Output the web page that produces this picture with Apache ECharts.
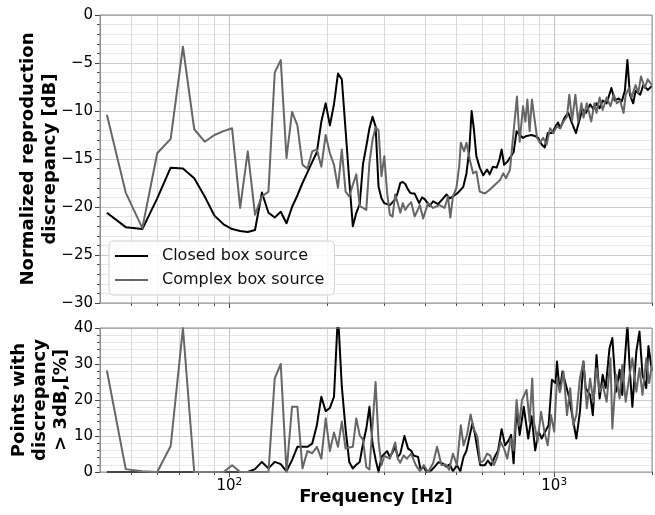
<!DOCTYPE html>
<html>
<head>
<meta charset="utf-8">
<script src="https://cdn.jsdelivr.net/npm/echarts@6/dist/echarts.min.js"></script>
<style>
html, body { margin: 0; padding: 0; background: #fff; }
#chart { width: 655px; height: 515px; }
</style>
</head>
<body>
<div id="chart"></div>
<script>
// top panel: normalized reproduction discrepancy [dB]
const closedTopF = [42,48,54,60,66,72,78,84,90,96,102,108,114,120,126,132,138,144,150,156,162,168,174,180,186,192,198,204,210,216,222,228,234,240,246,252,258,264,270,276,282,288,294,300,306,312,318,324,330,336,342,348,354,360,366,372,384,392,400,414,424,439,450,466,477,488,506,525,537,548,557,566,576,590,605,621,633,648,665,678,689,701,717,750,766,783,802,822,850,872,893,915,935,955,984,1010,1028,1043,1076,1105,1135,1167,1195,1222,1253,1290,1320,1350,1380,1410,1450,1500,1535,1580,1615,1650,1680,1710,1750,1780,1840,1880,1940,2000];
const closedTopV = [-20.6,-22.1,-22.3,-19.1,-15.9,-16.0,-17.0,-18.9,-20.9,-21.8,-22.3,-22.5,-22.6,-22.4,-18.5,-20.6,-21.1,-20.5,-21.7,-20.0,-18.8,-17.5,-16.4,-15.3,-14.3,-11.1,-9.2,-11.5,-9.3,-6.1,-6.7,-12.0,-17.2,-22.0,-20.6,-19.7,-15.5,-13.7,-11.8,-10.6,-11.6,-17.9,-19.1,-19.6,-19.7,-19.8,-19.5,-19.2,-18.5,-17.5,-17.4,-17.6,-18.1,-18.5,-18.6,-18.6,-19.6,-19.0,-19.2,-19.9,-19.4,-19.7,-19.3,-18.7,-19.1,-18.9,-18.5,-17.9,-16.5,-14.0,-10.0,-11.9,-14.7,-15.9,-16.7,-16.1,-16.6,-15.8,-15.9,-15.1,-14.0,-15.6,-15.3,-14.3,-12.1,-12.5,-12.8,-12.6,-12.5,-12.6,-12.8,-13.5,-13.8,-12.3,-12.3,-11.6,-11.2,-11.8,-10.7,-10.2,-11.3,-12.3,-11.0,-9.8,-10.2,-9.3,-9.8,-9.2,-9.7,-8.9,-9.2,-7.6,-8.9,-8.7,-9.0,-7.9,-4.7,-8.3,-9.2,-7.9,-8.3,-7.3,-7.8,-7.4];
const complexTopF = [42,48,54,60,66,72,78,84,90,96,102,108,114,120,126,132,138,144,150,156,162,168,174,180,186,192,198,204,210,216,222,228,234,240,246,252,258,264,270,276,282,288,294,300,306,312,318,324,330,336,342,348,356,363,372,386,395,409,424,444,460,471,479,488,500,510,516,528,537,550,563,576,590,612,633,656,681,697,711,731,740,768,783,802,815,827,840,854,872,886,904,925,948,971,994,1019,1043,1068,1095,1113,1135,1162,1185,1213,1231,1260,1300,1330,1350,1380,1410,1450,1490,1525,1560,1595,1635,1660,1700,1730,1780,1815,1850,1900,1940,2000];
const complexTopV = [-10.4,-18.5,-22.2,-14.4,-12.9,-3.3,-11.9,-13.2,-12.5,-12.1,-11.8,-20.1,-14.2,-20.8,-18.9,-18.4,-6.0,-4.7,-14.9,-10.1,-11.5,-15.6,-16.0,-14.2,-14.0,-15.8,-12.5,-14.4,-15.6,-18.0,-14.0,-18.4,-18.9,-17.7,-16.6,-19.9,-20.1,-20.3,-15.4,-13.0,-11.7,-12.0,-16.8,-14.7,-18.5,-20.8,-21.0,-18.7,-19.6,-20.6,-19.6,-20.3,-19.8,-19.5,-21.0,-19.8,-21.2,-19.6,-20.1,-19.8,-20.1,-18.9,-21.1,-18.9,-18.0,-15.8,-13.3,-14.2,-13.3,-15.1,-16.5,-16.3,-18.4,-18.6,-18.2,-17.7,-17.2,-16.5,-17.0,-16.1,-14.2,-8.5,-13.2,-9.5,-11.1,-8.8,-12.1,-8.8,-11.1,-12.8,-13.3,-12.8,-13.5,-11.8,-12.3,-11.6,-11.8,-11.1,-10.6,-8.3,-11.0,-8.3,-11.1,-9.2,-10.7,-9.2,-11.1,-9.2,-10.2,-8.6,-9.9,-8.6,-9.5,-8.3,-9.2,-8.9,-10.2,-8.3,-7.6,-8.6,-7.3,-8.1,-6.4,-7.6,-6.7,-7.3];

// bottom panel: points with discrepancy > 3 dB [%]
const closedBotF = [42,48,54,60,66,72,78,84,90,96,102,108,114,120,126,132,138,144,150,156,162,168,174,180,186,192,198,204,210,216,222,228,234,240,246,252,258,264,270,276,282,288,294,300,306,312,318,324,330,336,346,355,363,369,381,388,397,404,416,429,440,453,466,477,488,502,514,526,537,550,560,570,580,592,612,625,640,656,672,689,706,724,737,750,766,783,806,832,852,874,896,915,938,961,984,1010,1020,1040,1060,1090,1110,1140,1170,1200,1230,1250,1290,1315,1350,1380,1410,1440,1480,1510,1550,1590,1620,1680,1710,1740,1790,1830,1870,1920,1950,2000];
const closedBotV = [0,0,0,0,0,0,0,0,0,0,0,0,0,0.8,2.8,1.0,2.8,2.2,0.2,3.3,7.0,7.0,7.0,7.9,13,20.9,16.9,17.8,20.9,44,23.7,12,2.8,1.0,2.0,2.8,7.9,12,18.1,7.9,3.5,0,4.2,5.0,5.8,4.2,5.5,7.0,4.2,5.1,10.0,6.5,5.9,4.6,4.2,0.6,1.5,0,0.2,1.5,2.7,2.4,1.5,2.1,0.2,1.9,0.2,4.2,5.9,10.3,13.5,10.7,6.5,1.9,1.9,3.2,1.9,4.2,6.0,11.9,7.4,8.8,10.3,2.4,17.7,10.3,18.1,9.3,15.5,6.0,11.2,9.3,11.2,13,25.6,24.7,30.7,22.3,27.9,23.7,21,15,9.3,16.7,30.7,23.3,21.4,15.8,32.5,20.4,27,23.3,34.4,37.2,22.3,28.4,21.4,41,27.9,18.1,33.5,39,27,23.3,35,28];
const complexBotF = [42,48,54,60,66,72,78,84,90,96,102,108,114,120,126,132,138,144,150,156,162,168,174,180,186,192,198,204,210,216,222,228,234,240,246,252,258,264,270,282,288,294,300,312,324,330,336,344,352,363,375,386,397,409,424,436,450,464,475,488,502,516,526,539,553,566,580,592,607,621,635,652,668,684,701,717,735,750,766,780,796,822,840,856,866,889,911,933,955,978,1000,1020,1043,1068,1095,1120,1145,1170,1200,1230,1260,1290,1320,1350,1380,1410,1450,1490,1510,1550,1590,1620,1660,1700,1740,1790,1830,1870,1920,1960,2000];
const complexBotV = [28.2,0.8,0.2,0,7.2,40,0,0,0,0,1.9,0,0,0,0,0,26,30,0,18.1,18.1,1,5.8,5.2,7.0,3.7,14.9,5.8,11,7.0,14,6.5,6.8,7.0,14.9,10.2,9,1.4,0.7,25,8.6,1.9,4.5,3.7,8.2,3.7,2.6,4.6,3.7,5.1,1.9,0.2,1.9,0,2.4,7.0,1.9,2.1,0.6,5.1,1.9,13,7.4,10.3,16,11.9,9.8,2.6,3.2,5.1,4.6,1.9,4.2,8.4,6.5,3.7,9.3,6.0,20,13,20,22.8,14,26,14,8.4,16.7,11.2,7.4,15.8,11.2,26,22.3,27.9,15.8,23.3,13,15.8,26,30.7,17.7,26,19.5,28.8,22.3,24.2,19.5,31.6,12.1,27,20.4,29.8,19.5,26,31.6,22.3,28.8,21.4,31.6,24.7,29.8];

// x grid / tick positions (Hz)
const xTicks = [50,60,70,80,90,100,200,300,400,500,600,700,800,900,1000,2000];
const xMajor = [100,1000];

const zip = (f, v) => f.map((x, i) => [x, v[i]]);
const font = 'DejaVu Sans';
const minus = v => (v < 0 ? '\u2212' + (-v) : String(v));

function vGrid(yRef) {
  return function (params, api) {
    const f = api.value(0);
    const major = xMajor.indexOf(f) >= 0;
    const cs = params.coordSys;
    const x = Math.round(api.coord([f, yRef])[0]) + 0.5;
    const b = cs.y + cs.height;
    return {
      type: 'group',
      children: [
        { type: 'line', shape: { x1: x, y1: cs.y, x2: x, y2: b },
          style: { stroke: major ? '#c4c4c4' : '#d8d8d8', lineWidth: 1 } },
        { type: 'line', shape: { x1: x, y1: b, x2: x, y2: b + (major ? 5 : 3) },
          style: { stroke: '#444', lineWidth: 1 } }
      ]
    };
  };
}

const chart = echarts.init(document.getElementById('chart'));

const xBase = {
  type: 'log', logBase: 10, min: 40, max: 2000,
  axisLine: { show: false, onZero: false },
  axisTick: { show: false },
  splitLine: { show: false }
};
const yBase = {
  type: 'value',
  axisLine: { show: true, onZero: false, lineStyle: { color: '#8c8c8c' } },
  axisTick: { show: true, length: 5, lineStyle: { color: '#444' } },
  minorTick: { show: true, splitNumber: 5, length: 3, lineStyle: { color: '#444' } },
  splitLine: { show: true, lineStyle: { color: '#cccccc' } },
  minorSplitLine: { show: true, lineStyle: { color: '#e8e8e8' } },
  nameLocation: 'middle',
  nameRotate: 90,
  nameMoveOverlap: false,
  nameTextStyle: { fontFamily: font, fontSize: 18, fontWeight: 'bold', color: '#000', lineHeight: 21.5 }
};

chart.setOption({
  animation: false,
  textStyle: { fontFamily: font },
  grid: [
    { left: 100, top: 15, width: 552, height: 288, show: true, borderColor: '#8c8c8c', borderWidth: 1, backgroundColor: 'transparent', z: 5 },
    { left: 100, top: 328, width: 552, height: 144, show: true, borderColor: '#8c8c8c', borderWidth: 1, backgroundColor: 'transparent', z: 5 }
  ],
  legend: {
    data: ['Closed box source', 'Complex box source'],
    orient: 'vertical', left: 109, top: 241,
    icon: 'rect', itemWidth: 33, itemHeight: 2, itemGap: 6,
    padding: [6, 10, 6, 6],
    backgroundColor: 'rgba(255,255,255,0.85)',
    borderColor: '#d0d0d0', borderWidth: 1, borderRadius: 4,
    textStyle: { fontFamily: font, fontSize: 16, color: '#111', lineHeight: 18, padding: [0, 0, 0, 9] }
  },
  xAxis: [
    Object.assign({}, xBase, { gridIndex: 0, axisLabel: { show: false } }),
    Object.assign({}, xBase, {
      gridIndex: 1,
      axisLabel: {
        show: true, margin: 5,
        formatter: v => {
          const e = Math.round(Math.log10(v));
          return (e === 2 || e === 3) && Math.abs(v - Math.pow(10, e)) < 1e-6 * v ? '{b|10}{s|' + e + '}' : '';
        },
        rich: {
          b: { fontFamily: font, fontSize: 15, color: '#000', lineHeight: 18 },
          s: { fontFamily: font, fontSize: 10.5, color: '#000', verticalAlign: 'top', lineHeight: 10 }
        }
      },
      name: 'Frequency [Hz]', nameLocation: 'middle', nameGap: 16, nameMoveOverlap: false,
      nameTextStyle: { fontFamily: font, fontSize: 18, fontWeight: 'bold', color: '#000' }
    })
  ],
  yAxis: [
    Object.assign({}, yBase, {
      gridIndex: 0, min: -30, max: 0, interval: 5,
      axisLabel: { fontFamily: font, fontSize: 15, color: '#000', margin: 7, formatter: minus },
      name: 'Normalized reproduction\ndiscrepancy [dB]', nameGap: 39
    }),
    Object.assign({}, yBase, {
      gridIndex: 1, min: 0, max: 40, interval: 10,
      axisLabel: { fontFamily: font, fontSize: 15, color: '#000', margin: 7 },
      name: 'Points with\ndiscrepancy\n> 3dB,[%]', nameGap: 28,
      nameTextStyle: { fontFamily: font, fontSize: 18, fontWeight: 'bold', color: '#000', lineHeight: 21 }
    })
  ],
  series: [
    { type: 'custom', xAxisIndex: 0, yAxisIndex: 0, silent: true, z: 1,
      renderItem: vGrid(-30), data: xTicks.map(v => [v, -30]) },
    { type: 'custom', xAxisIndex: 1, yAxisIndex: 1, silent: true, z: 1,
      renderItem: vGrid(0), data: xTicks.map(v => [v, 0]) },
    { name: 'Closed box source', type: 'line', xAxisIndex: 0, yAxisIndex: 0, z: 3,
      data: zip(closedTopF, closedTopV), symbol: 'none',
      lineStyle: { color: '#000', width: 2, join: 'round' }, itemStyle: { color: '#000' } },
    { name: 'Complex box source', type: 'line', xAxisIndex: 0, yAxisIndex: 0, z: 3,
      data: zip(complexTopF, complexTopV), symbol: 'none',
      lineStyle: { color: '#666', width: 2, join: 'round' }, itemStyle: { color: '#666' } },
    { name: 'Closed box source', type: 'line', xAxisIndex: 1, yAxisIndex: 1, z: 3,
      data: zip(closedBotF, closedBotV), symbol: 'none',
      lineStyle: { color: '#000', width: 2, join: 'round' }, itemStyle: { color: '#000' } },
    { name: 'Complex box source', type: 'line', xAxisIndex: 1, yAxisIndex: 1, z: 3,
      data: zip(complexBotF, complexBotV), symbol: 'none',
      lineStyle: { color: '#666', width: 2, join: 'round' }, itemStyle: { color: '#666' } }
  ]
});
</script>
</body>
</html>
